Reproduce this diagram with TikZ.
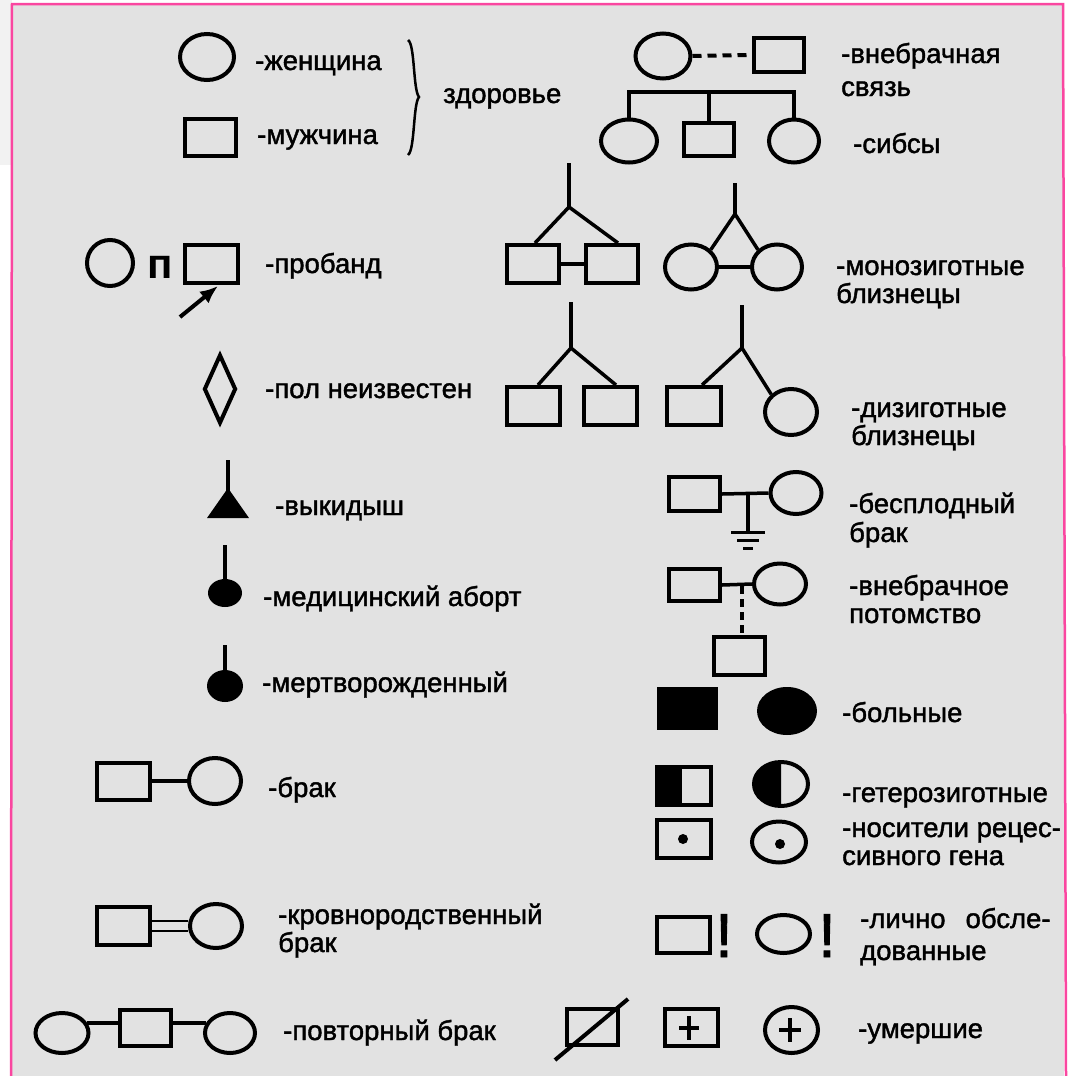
\documentclass[tikz,border=0pt]{standalone}
\usepackage{fontspec}
\setmainfont{Liberation Sans}[FakeBold=1.5]
\newfontfamily\heavyfont{Liberation Sans Bold}
\usetikzlibrary{shapes.geometric,arrows.meta}
\definecolor{panel}{RGB}{226,226,226}
\definecolor{paper}{RGB}{242,242,242}
\definecolor{rim}{RGB}{250,70,160}
\newcommand\legendfont{\fontsize{27.5}{28}\selectfont}
\begin{document}
\begin{tikzpicture}[x=1pt,y=-1pt,
  fem/.style={ellipse, draw, line width=4pt, inner sep=0pt, minimum width=54pt, minimum height=46pt},
  male/.style={rectangle, draw, line width=4pt, inner sep=0pt, minimum width=52pt, minimum height=38pt},
  lbl/.style={anchor=base west, inner sep=0pt, font=\legendfont},
  link/.style={line width=3.5pt},
  bang/.style={anchor=base, inner sep=0pt, font=\fontsize{62}{62}\selectfont}]
\useasboundingbox (0,0) rectangle (1071,1076);
% sheet and its pink rim
\fill[white] (0,0) rectangle (1071,1076);
\fill[paper] (0,0) rectangle (12,165);
\fill[panel] (12,4) rectangle (1064,1076);
\draw[rim, line width=2.5pt] (11,1076) -- (12,4) -- (1063,4) -- (1066,1076);

% ---------- healthy woman / man ----------
\node[fem] (w1) at (207,57) {};
\node[lbl] (tw1) at (255,70) {-женщина};
\node[male, minimum width=51pt, minimum height=37pt] (m1) at (210,137) {};
\node[lbl] (tm1) at (257,144) {-мужчина};
\draw[line width=2.5pt] (408,40) .. controls (415,44) and (413,90) .. (419,97)
                        .. controls (413,104) and (415,150) .. (408,155);
\node[lbl] (thealth) at (443,103) {здоровье};

% ---------- extramarital relation ----------
\node[fem, minimum width=55pt, minimum height=45pt] (w2) at (663,56) {};
\node[male, minimum width=50pt, minimum height=34pt] (m2) at (779,55) {};
\draw[line width=4pt, dash pattern=on 9pt off 6pt] (w2.east) -- (m2.west);
\node[lbl] (tw2a) at (841,63) {-внебрачная};
\node[lbl] (tw2b) at (841,96) {связь};

% ---------- sibship ----------
\node[fem, minimum width=56pt, minimum height=43pt] (s1) at (629,141) {};
\node[male, minimum width=50pt, minimum height=33pt] (s2) at (709,139) {};
\node[fem, minimum width=50pt, minimum height=43pt] (s3) at (794,141) {};
\coordinate (sb) at (709,92);
\draw[link] (s1.north) |- (sb) -| (s3.north);
\draw[link] (s2.north) -- (sb);
\node[lbl] (tsib) at (853,153) {-сибсы};

% ---------- proband ----------
\node[fem, minimum width=46pt, minimum height=46pt] (p1) at (110,263) {};
\node[anchor=base, inner sep=0pt, font=\fontsize{42}{42}\selectfont\heavyfont] (pl) at (160,278) {п};
\node[male, minimum width=53pt, minimum height=38pt] (p2) at (211.5,264) {};
\coordinate (pa) at (180,317);
\coordinate (ph) at (218,286);
\draw[line width=4pt, -{Latex[length=18pt,width=15pt]}] (pa) -- (ph);
\node[lbl] (tpro) at (265,273) {-пробанд};

% ---------- unknown sex ----------
\node[diamond, draw, line width=4pt, inner sep=0pt, minimum width=32pt, minimum height=69pt] (dia) at (220,389) {};
\node[lbl] (tdia) at (265,398) {-пол неизвестен};

% ---------- miscarriage, abortion, stillbirth ----------
\coordinate (mc0) at (228,460);
\coordinate (mc1) at (228,492);
\draw[line width=4pt] (mc0) -- (mc1);
\fill (207,518) -- (249,518) -- (228,488) -- cycle;
\node[lbl] (tmc) at (275,515) {-выкидыш};

\node[ellipse, fill, inner sep=0pt, minimum width=34pt, minimum height=28pt] (ab) at (225,593) {};
\coordinate (ab0) at (225,545);
\draw[line width=4pt] (ab0) -- (ab.north);
\node[lbl] (tab) at (263,606) {-медицинский аборт};

\node[ellipse, fill, inner sep=0pt, minimum width=36pt, minimum height=32pt] (sb1) at (225,686) {};
\coordinate (sb0) at (225,645);
\draw[line width=4pt] (sb0) -- (sb1.north);
\node[lbl] (tsb) at (262,692) {-мертворожденный};

% ---------- marriage ----------
\node[male, minimum width=53pt, minimum height=37pt] (m3) at (123,781) {};
\node[fem, minimum width=52pt, minimum height=46pt] (f3) at (215,781) {};
\draw[link] (m3.east) -- (f3.west);
\node[lbl] (tm3) at (268,797) {-брак};

% ---------- consanguineous marriage ----------
\node[male, minimum width=53pt, minimum height=38pt] (m4) at (123,926) {};
\node[fem, minimum width=52pt, minimum height=44pt] (f4) at (216,926) {};
\draw[line width=2.5pt] ([yshift=-5pt]m4.east) -- ([yshift=-5pt]f4.west);
\draw[line width=2.5pt] ([yshift=5pt]m4.east) -- ([yshift=5pt]f4.west);
\node[lbl] (tm4a) at (278,924) {-кровнородственный};
\node[lbl] (tm4b) at (278,952) {брак};

% ---------- repeated marriage ----------
\node[fem, minimum width=53pt, minimum height=40pt] (r1) at (62,1033) {};
\node[male, minimum width=51pt, minimum height=36pt] (r2) at (145.5,1027.5) {};
\node[fem, minimum width=50pt, minimum height=40pt] (r3) at (230,1033) {};
\draw[link] (r1.22) -- (r2.west |- r1.22);
\draw[link] (r2.east |- r3.158) -- (r3.158);
\node[lbl] (tr) at (283,1040) {-повторный брак};

% ---------- twins ----------
\node[male] (t1) at (533,264) {};
\node[male] (t2) at (612,264) {};
\coordinate (t12a) at (569,163);
\coordinate (t12b) at (569,207);
\draw[link] (t12a) -- (t12b);
\draw[link] (t12b) -- ([xshift=2pt]t1.north);
\draw[link] (t12b) -- ([xshift=6pt]t2.north);
\draw[link] (t1.east) -- (t2.west);

\node[fem, minimum width=52pt, minimum height=45pt] (t3) at (691,267) {};
\node[fem, minimum width=50pt, minimum height=45pt] (t4) at (777,267) {};
\coordinate (t34a) at (735,183);
\coordinate (t34b) at (735,214);
\draw[link] (t34a) -- (t34b);
\draw[link] (t34b) -- (t3.north east);
\draw[link] (t34b) -- (t4.north west);
\draw[link] (t3.east) -- (t4.west);
\node[lbl] (tmz1) at (836,275) {-монозиготные};
\node[lbl] (tmz2) at (836,303) {близнецы};

\node[male, minimum width=53pt, minimum height=38pt] (t5) at (533,406) {};
\node[male, minimum width=53pt, minimum height=38pt] (t6) at (610,406) {};
\coordinate (t56a) at (571,302);
\coordinate (t56b) at (571,348);
\draw[link] (t56a) -- (t56b);
\draw[link] (t56b) -- ([xshift=5pt]t5.north);
\draw[link] (t56b) -- ([xshift=6pt]t6.north);

\node[male, minimum width=54pt, minimum height=38pt] (t7) at (694,406) {};
\node[fem, minimum width=52pt, minimum height=46pt] (t8) at (791,412) {};
\coordinate (t78a) at (742,305);
\coordinate (t78b) at (742,348);
\draw[link] (t78a) -- (t78b);
\draw[link] (t78b) -- ([xshift=8pt]t7.north);
\draw[link] (t78b) -- (t8.north west);
\node[lbl] (tdz1) at (851,417) {-дизиготные};
\node[lbl] (tdz2) at (851,445) {близнецы};

% ---------- infertile marriage ----------
\node[male, minimum width=51pt, minimum height=34pt] (i1) at (694.5,494) {};
\node[fem, minimum width=51pt, minimum height=42pt] (i2) at (796,493) {};
\draw[link] (i1.east) -- (i2.west);
\coordinate (ig) at (748,494);
\coordinate (ig1) at (748,532);
\draw[link] (ig) -- (ig1);
\draw[line width=3pt] (731,532) -- (765,532);
\draw[line width=3pt] (737,540) -- (759,540);
\draw[line width=3pt] (743,548) -- (753,548);
\node[lbl] (tin1) at (849,513) {-бесплодный};
\node[lbl] (tin2) at (849,542) {брак};

% ---------- extramarital offspring ----------
\node[male, minimum width=51pt, minimum height=32pt] (o1) at (694.5,585) {};
\node[fem, minimum width=52pt, minimum height=41pt] (o2) at (780,584) {};
\node[male, minimum width=51pt, minimum height=38pt] (o3) at (739.5,656) {};
\draw[link] (o1.east) -- (o2.west);
\coordinate (og) at (742,586);
\draw[line width=4pt, dash pattern=on 8pt off 5pt] (og) -- (og |- o3.north);
\node[lbl] (tof1) at (849,595) {-внебрачное};
\node[lbl] (tof2) at (849,623) {потомство};

% ---------- affected ----------
\node[rectangle, fill, inner sep=0pt, minimum width=61pt, minimum height=43pt] (a1) at (687.5,708.5) {};
\node[ellipse, fill, inner sep=0pt, minimum width=60pt, minimum height=48pt] (a2) at (787,711) {};
\node[lbl] (taf) at (842,722) {-больные};

% ---------- heterozygotes ----------
\fill (655,765) rectangle (682,807);
\node[male, minimum width=54pt, minimum height=38pt] (h1) at (684,786) {};
\begin{scope}
  \clip (740,750) rectangle (781,820);
  \fill (781,784) ellipse [x radius=27pt, y radius=22pt];
\end{scope}
\node[fem, minimum width=54pt, minimum height=44pt] (h2) at (781,784) {};
\node[lbl] (thz) at (842,802) {-гетерозиготные};

% ---------- carriers ----------
\node[male, minimum width=54pt, minimum height=38pt] (c1) at (684,839) {};
\fill (683,839) circle (5pt);
\node[fem, minimum width=54pt, minimum height=41pt] (c2) at (779,842) {};
\fill (780,844) circle (5pt);
\node[lbl] (tca1) at (842,837) {-носители рецес-};
\node[lbl] (tca2) at (842,865) {сивного гена};

% ---------- personally examined ----------
\node[male, minimum width=53pt, minimum height=36pt] (e1) at (683.5,935) {};
\node[bang] (e1b) at (724,957) {!};
\node[fem, minimum width=53pt, minimum height=38pt] (e2) at (783.5,934) {};
\node[bang] (e2b) at (827,957) {!};
\node[lbl] (tex1) at (860,928) {-лично\hspace{20pt}обсле-};
\node[lbl] (tex2) at (860,960) {дованные};

% ---------- deceased ----------
\node[male, minimum width=51pt, minimum height=36pt] (d1) at (592.5,1027) {};
\coordinate (dx0) at (555,1060);
\coordinate (dx1) at (628,999);
\draw[line width=4pt] (dx0) -- (dx1);
\node[male, minimum width=53pt, minimum height=37pt] (d2) at (691.5,1027.5) {};
\draw[line width=4pt] (679,1028) -- (699,1028) (689,1016) -- (689,1040);
\node[fem, minimum width=53pt, minimum height=46pt] (d3) at (791.5,1030) {};
\draw[line width=4pt] (779,1030) -- (801,1030) (790,1018) -- (790,1042);
\node[lbl] (tde) at (858,1038) {-умершие};
\end{tikzpicture}
\end{document}
